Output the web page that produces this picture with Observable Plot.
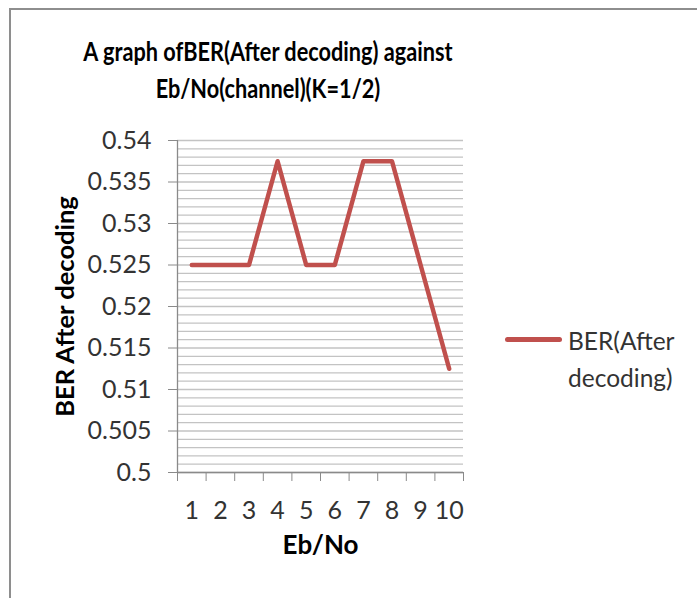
<!DOCTYPE html>
<html>
<head>
<meta charset="utf-8">
<script src="https://cdn.jsdelivr.net/npm/d3@7"></script>
<script src="https://cdn.jsdelivr.net/npm/@observablehq/plot@0.6"></script>
<style>
  html, body { margin: 0; padding: 0; background: #fff; }
  #wrap { position: relative; width: 697px; height: 598px; overflow: hidden; background: #fff; font-family: Lato, "Noto Sans", sans-serif; }
  #frame { position: absolute; left: 9px; top: 8px; width: 700px; height: 600px; border-left: 2px solid #8e8e8e; border-top: 2px solid #8e8e8e; }
  #title { position: absolute; left: 0; top: 33px; width: 536px; text-align: center; font-weight: bold; font-size: 26px; line-height: 37px; color: #000; transform: scaleX(0.835); transform-origin: 268px 0; }
  #chart { position: absolute; left: 0; top: 0; }
  #legend { position: absolute; left: 505px; top: 322px; }
  #legend .swatch { position: absolute; left: 0; top: 15px; width: 57px; height: 5px; border-radius: 2.5px; background: #c0504d; }
  #legend .lab { position: absolute; left: 63px; top: 0; font-size: 24.5px; line-height: 37px; color: #333; white-space: nowrap; }
</style>
</head>
<body>
<div id="wrap">
  <div id="frame"></div>
  <div id="chart"></div>
  <div id="title">A graph ofBER(After decoding) against<br>Eb/No(channel)(K=1/2)</div>
  <div id="legend"><div class="swatch"></div><div class="lab">BER(After<br>decoding)</div></div>
</div>
<script>
const categories = [1, 2, 3, 4, 5, 6, 7, 8, 9, 10];
const berAfterDecoding = [0.525, 0.525, 0.525, 0.5375, 0.525, 0.525, 0.5375, 0.5375, 0.525, 0.5125];
const yTicks = [0.5, 0.505, 0.51, 0.515, 0.52, 0.525, 0.53, 0.535, 0.54];
const yTickLabels = ["0.5", "0.505", "0.51", "0.515", "0.52", "0.525", "0.53", "0.535", "0.54"];
const xLabel = "Eb/No";
const yLabel = "BER After decoding";

const rows = categories.map((c, i) => ({eb: c, ber: berAfterDecoding[i]}));
const gridLines = d3.range(0, 41).map(i => +(0.5 + i * 0.001).toFixed(3));
const xBounds = categories.map(c => c - 0.5).concat([categories[categories.length - 1] + 0.5]);
const labelOf = new Map(yTicks.map((t, i) => [t, yTickLabels[i]]));

const chart = Plot.plot({
  width: 697,
  height: 598,
  marginLeft: 177,
  marginRight: 234,
  marginTop: 140,
  marginBottom: 126,
  style: {fontFamily: "Lato, 'Noto Sans', sans-serif", fontSize: "25px", background: "transparent", color: "#333"},
  x: {type: "linear", domain: [0.5, 10.5]},
  y: {domain: [0.5, 0.54]},
  marks: [
    Plot.ruleY(gridLines, {stroke: "#c3c3c3", strokeWidth: 1.3}),
    Plot.ruleX([0.5], {stroke: "#8a8a8a", strokeWidth: 1.3}),
    Plot.ruleY([0.5], {stroke: "#8a8a8a", strokeWidth: 1.3}),
    Plot.axisY({ticks: yTicks, tickSize: 9, tickPadding: 17, tickFormat: d => labelOf.get(d), stroke: "#8a8a8a", fill: "#333", label: null}),
    Plot.axisX({ticks: xBounds, tickSize: 9, tickFormat: () => "", stroke: "#8a8a8a", label: null}),
    Plot.axisX({ticks: categories, tickSize: 0, tickPadding: 29, fill: "#333", label: null}),
    Plot.line(rows, {x: "eb", y: "ber", stroke: "#c0504d", strokeWidth: 4.5, strokeLinejoin: "round", strokeLinecap: "round"}),
    Plot.text([yLabel], {frameAnchor: "left", textAnchor: "middle", rotate: -90, dx: -112, fontWeight: "bold", fontSize: 25.5, fill: "#000"}),
    Plot.text([xLabel], {frameAnchor: "bottom", textAnchor: "middle", dy: 81, fontWeight: "bold", fontSize: 26, fill: "#000"})
  ]
});
document.getElementById("chart").appendChild(chart);
</script>
</body>
</html>
